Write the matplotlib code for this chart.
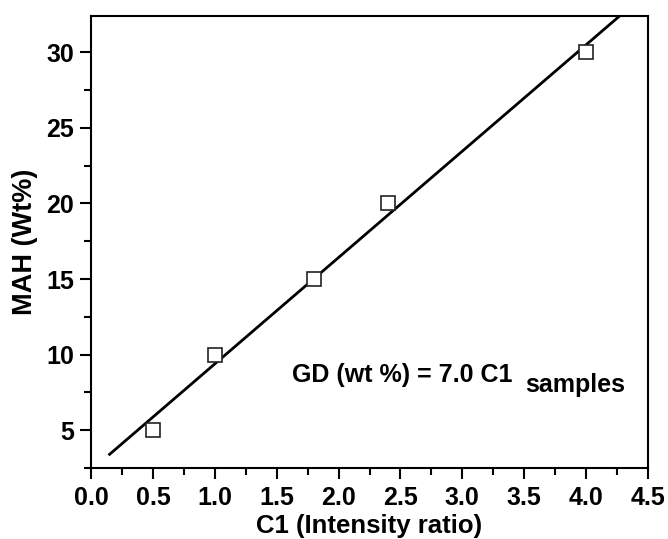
import numpy as np
import matplotlib.pyplot as plt
from matplotlib.ticker import MultipleLocator

plt.rcParams['font.family'] = ['Liberation Sans', 'DejaVu Sans']
plt.rcParams['font.weight'] = 'bold'

# data
c1 = [0.5, 1.0, 1.8, 2.4, 4.0]
mah = [5, 10, 15, 20, 30]
fit_x = [0.15, 4.35]   # extent of the fitted line

coef = np.polyfit(c1, mah, 1)
fit_y = np.polyval(coef, fit_x)

fig = plt.figure(figsize=(6.68, 5.39), dpi=100)
ax = fig.add_axes([91/668, 1 - 468/539, 557/668, 452/539])

ax.plot(fit_x, fit_y, color='black', lw=2)
ax.plot(c1, mah, 's', ms=10.5, mfc='white', mec='#222222', mew=1.2)

ax.set_xlim(0, 4.5)
ax.set_ylim(2.5, 32.4)
ax.xaxis.set_major_locator(MultipleLocator(0.5))
ax.xaxis.set_minor_locator(MultipleLocator(0.25))
ax.yaxis.set_minor_locator(MultipleLocator(2.5))
ax.set_yticks([5, 10, 15, 20, 25, 30])
ax.xaxis.set_major_formatter(plt.FuncFormatter(lambda v, p: '%.1f' % v))

ax.tick_params(which='major', direction='out', length=8, width=1.5, labelsize=18)
ax.tick_params(axis='x', which='major', pad=5)
ax.tick_params(axis='y', which='major', pad=4)
ax.tick_params(which='minor', direction='out', length=5, width=1.5)
for s in ax.spines.values():
    s.set_linewidth(1.5)

ax.set_xlabel('C1 (Intensity ratio)', fontsize=18.5, fontweight='bold', labelpad=3)
ax.set_ylabel('MAH (Wt%)', fontsize=19.5, fontweight='bold', labelpad=6)

ax.text(1.62, 8.16, 'GD (wt %) = 7.0 C1', fontsize=18, fontweight='bold', va='baseline')
ax.text(3.51, 7.5, 'samples', fontsize=18, fontweight='bold', va='baseline')

fig.savefig('out.png', dpi=100)
